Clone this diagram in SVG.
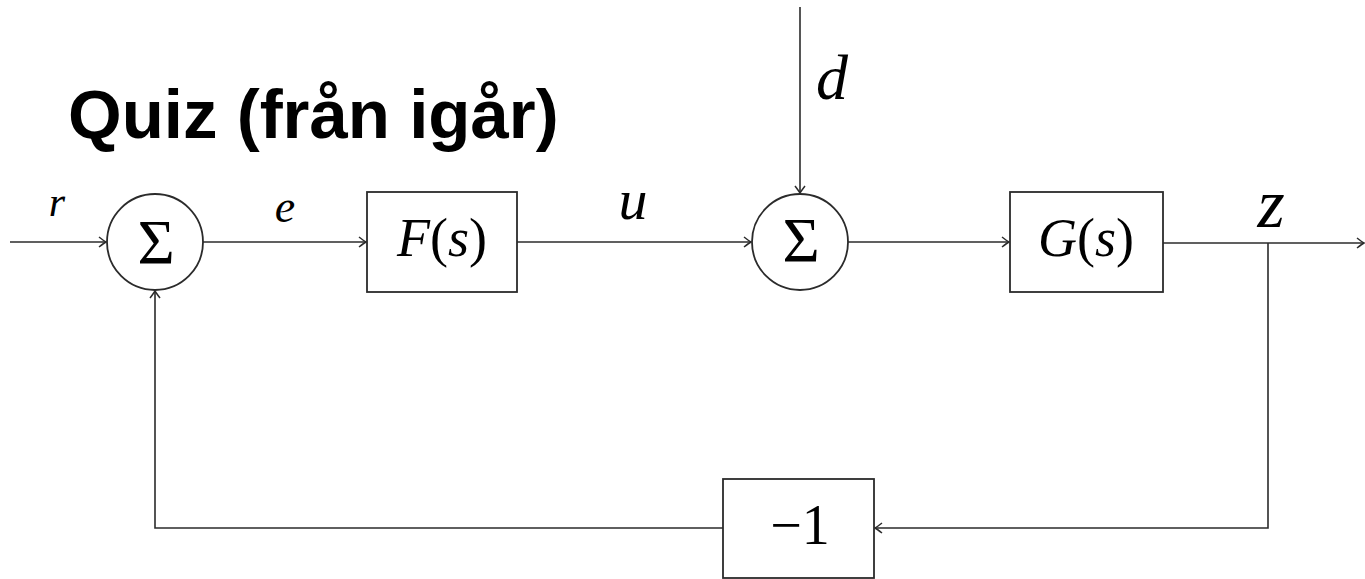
<svg xmlns="http://www.w3.org/2000/svg" width="1365" height="579" viewBox="0 0 1365 579">
<style>
.ln{fill:none;stroke:#2b2b2b;stroke-width:1.6}
.bx{fill:#fff;stroke:#2b2b2b;stroke-width:1.8}
.m{font-family:"Liberation Serif",serif;font-style:italic;fill:#000}
.r{font-family:"Liberation Serif",serif;fill:#000}
.t{font-family:"Liberation Sans",Arial,sans-serif;font-weight:bold;fill:#000}
</style>
<defs>
<marker id="ah" viewBox="-10 -6 12 12" markerWidth="12" markerHeight="12" refX="0" refY="0" orient="auto" markerUnits="userSpaceOnUse">
<path d="M -7 -5 Q -2 -1.2 0 0 Q -2 1.2 -7 5" fill="none" stroke="#2b2b2b" stroke-width="1.5"/>
</marker>
</defs>
<text class="t" x="68" y="138" font-size="69">Quiz (från igår)</text>
<g id="connectors">
<line class="ln" x1="10" y1="242" x2="106" y2="242" marker-end="url(#ah)"/>
<line class="ln" x1="203" y1="242" x2="366" y2="242" marker-end="url(#ah)"/>
<line class="ln" x1="517" y1="242" x2="751" y2="242" marker-end="url(#ah)"/>
<line class="ln" x1="800" y1="7" x2="800" y2="193" marker-end="url(#ah)"/>
<line class="ln" x1="848" y1="242" x2="1009" y2="242" marker-end="url(#ah)"/>
<line class="ln" x1="1163" y1="243" x2="1364" y2="243" marker-end="url(#ah)"/>
<polyline class="ln" points="1268,243 1268,528 875,528" marker-end="url(#ah)"/>
<polyline class="ln" points="723,528 155,528 155,291" marker-end="url(#ah)"/>
</g>
<g id="labels">
<text class="m" x="57" y="216" font-size="42" text-anchor="middle">r</text>
<text class="m" x="285" y="222" font-size="46" text-anchor="middle">e</text>
<text class="m" x="633" y="219" font-size="58" text-anchor="middle">u</text>
<text class="m" x="832" y="99" font-size="64" text-anchor="middle">d</text>
<text class="m" x="1271" y="227" font-size="70" text-anchor="middle">z</text>
</g>
<g id="sum1">
<circle class="bx" cx="155" cy="242" r="48"/>
<text class="r" x="156" y="264" font-size="64" text-anchor="middle">Σ</text>
</g>
<g id="F">
<rect class="bx" x="367" y="192" width="150" height="100"/>
<text x="442" y="256" font-size="54" text-anchor="middle"><tspan class="m">F</tspan><tspan class="r">(</tspan><tspan class="m">s</tspan><tspan class="r">)</tspan></text>
</g>
<g id="sum2">
<circle class="bx" cx="800" cy="242" r="48"/>
<text class="r" x="801" y="262" font-size="64" text-anchor="middle">Σ</text>
</g>
<g id="G">
<rect class="bx" x="1010" y="192" width="153" height="100"/>
<text x="1086" y="256" font-size="54" text-anchor="middle"><tspan class="m">G</tspan><tspan class="r">(</tspan><tspan class="m">s</tspan><tspan class="r">)</tspan></text>
</g>
<g id="neg1">
<rect class="bx" x="723" y="479" width="151" height="99"/>
<text class="r" x="800" y="544" font-size="56" text-anchor="middle">−1</text>
</g>
</svg>
